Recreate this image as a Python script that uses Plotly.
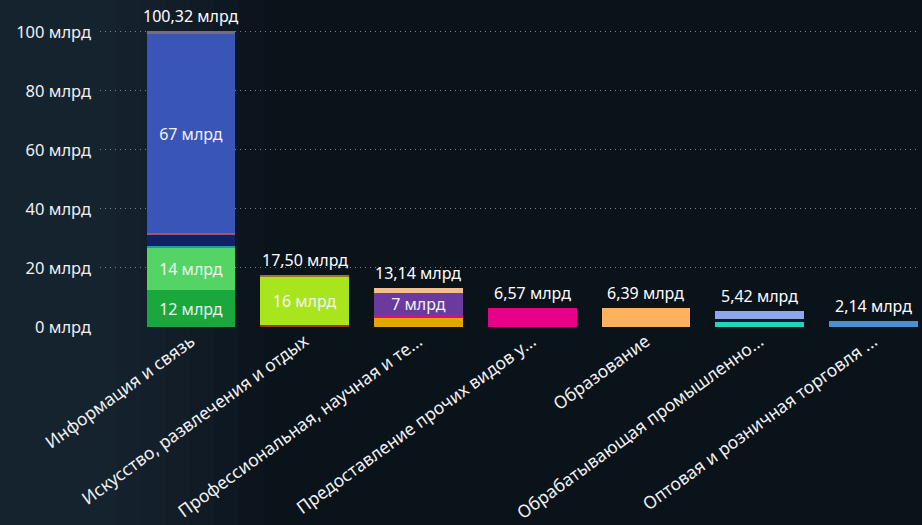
import plotly.graph_objects as go

categories = [
    "Информация и связь",
    "Искусство, развлечения и отдых",
    "Профессиональная, научная и те...",
    "Предоставление прочих видов у...",
    "Образование",
    "Обрабатывающая промышленно...",
    "Оптовая и розничная торговля ...",
]

# stacked segments (bottom to top) for each category, in млрд
seg_category = [0, 0, 0, 0, 0, 0, 0,
                1, 1, 1,
                2, 2, 2, 2,
                3,
                4,
                5, 5, 5,
                6]
seg_value = [12.45, 14.2, 0.9, 3.7, 0.5, 67.45, 1.12,
             0.8, 16.3, 0.4,
             3.0, 1.0, 7.45, 1.69,
             6.57,
             6.39,
             1.8, 0.9, 2.72,
             2.14]
seg_color = ["#1aa83e", "#55d466", "#1f9aa6", "#0d2462", "#b0506a", "#3a55b8", "#6e7080",
             "#9a3a22", "#a8e51c", "#a0703a",
             "#e3a602", "#d1127c", "#6a3a9e", "#f3bd8c",
             "#e6008a",
             "#ffb25e",
             "#1fd6b8", "#0b1a30", "#8ea6ea",
             "#4a8fd0"]

y_ticks = [0, 20, 40, 60, 80, 100]
y_tick_labels = [f"{v} млрд" for v in y_ticks]

LABEL_MIN = 7.0
FONT = "Noto Sans"

fig = go.Figure()
for c, v, col in zip(seg_category, seg_value, seg_color):
    fig.add_trace(go.Bar(
        x=[categories[c]], y=[v],
        marker=dict(color=col, line=dict(width=0)),
        width=0.78,
        text=[f"{v:.0f} млрд" if v >= LABEL_MIN else ""],
        textposition="inside",
        insidetextanchor="middle",
        constraintext="none",
        textfont=dict(color="#f2f2f2", size=16, family=FONT),
        hoverinfo="skip",
        showlegend=False,
    ))

totals = [0.0] * len(categories)
for c, v in zip(seg_category, seg_value):
    totals[c] += v

for cat, t in zip(categories, totals):
    fig.add_annotation(
        x=cat, y=t, xref="x", yref="y",
        text=f"{t:.2f}".replace(".", ",") + " млрд",
        showarrow=False, yanchor="bottom", yshift=2,
        font=dict(color="#ffffff", size=16, family=FONT),
    )

# soft lighter glow on the left of the background
for x1 in [0.20, 0.17, 0.14, 0.11, 0.08, 0.05, 0.02]:
    fig.add_shape(type="rect", xref="paper", yref="paper",
                  x0=-0.13, x1=x1, y0=-0.7, y1=1.1,
                  fillcolor="#22323f", opacity=0.12, line=dict(width=0),
                  layer="below")

fig.update_layout(
    width=922, height=525,
    barmode="stack",
    paper_bgcolor="#0a121a",
    plot_bgcolor="rgba(0,0,0,0)",
    margin=dict(l=100, r=2, t=20, b=198),
    font=dict(family=FONT, color="#ffffff", size=15),
)
fig.update_xaxes(
    range=[-0.8, 6.41], tickangle=-36, showgrid=False, zeroline=False,
    showline=False, ticks="", tickfont=dict(size=17.5, color="#f0f0f0", family=FONT),
)
fig.update_yaxes(
    range=[0, 104], tickvals=y_ticks, ticktext=y_tick_labels,
    showgrid=True, gridcolor="#7a848e", griddash="1px,4px", gridwidth=1,
    zeroline=False, showline=False, ticks="", ticklabelstandoff=8,
    tickfont=dict(size=16.5, color="#f0f0f0", family=FONT),
)

fig.write_html("out.html", config={"displayModeBar": False},
               post_script="document.body.style.margin='0';")
